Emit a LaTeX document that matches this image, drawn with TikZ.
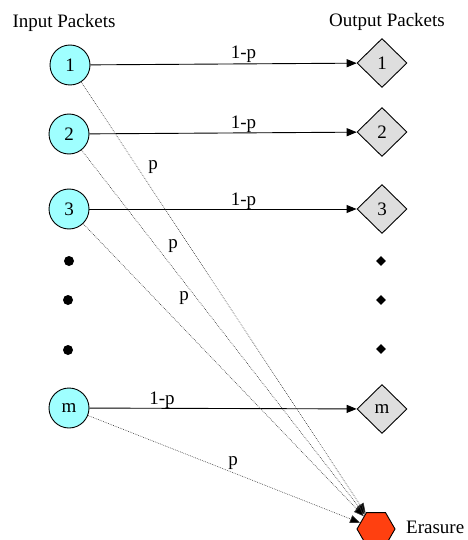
\documentclass[tikz,border=0pt]{standalone}
\usepackage{fontspec}
\setmainfont{Liberation Serif}
\usetikzlibrary{shapes.geometric,arrows.meta}

\definecolor{inputfill}{HTML}{9FFFFF}
\definecolor{outputfill}{HTML}{DEDEDE}
\definecolor{erasefill}{HTML}{FF4010}

\tikzset{
  lbl/.style={font=\fontsize{19}{22}\selectfont, inner sep=0pt, anchor=base},
  inpkt/.style={circle, draw, line width=0.9pt, fill=inputfill, minimum size=40pt,
    inner sep=0pt, font=\fontsize{19}{22}\selectfont},
  outpkt/.style={diamond, draw, line width=0.9pt, fill=outputfill, minimum width=50pt,
    minimum height=49pt, inner sep=0pt, font=\fontsize{19}{22}\selectfont},
  erasebox/.style={regular polygon, regular polygon sides=6, draw, line width=0.9pt,
    fill=erasefill, minimum size=38pt, inner sep=0pt},
  bigdot/.style={circle, fill=black, minimum size=10pt, inner sep=0pt},
  smalldiam/.style={diamond, fill=black, minimum width=10pt, minimum height=10pt, inner sep=0pt},
  pass/.style={line width=0.9pt, -{Triangle[length=10pt,width=8pt]}},
  lost/.style={line width=0.6pt, black!80, dash pattern=on 0.7pt off 1.1pt,
    -{Triangle[length=10pt,width=8pt,fill=black]}},
}

\begin{document}
\begin{tikzpicture}[x=1pt, y=-1pt]
\useasboundingbox (0,0) rectangle (467,540);

% column headings
\node[lbl] (hin)  at (64,28)  {Input Packets};
\node[lbl] (hout) at (387,27) {Output Packets};

% input packets
\node[inpkt] (i1) at (70,65)  {1};
\node[inpkt] (i2) at (69,134) {2};
\node[inpkt] (i3) at (69,209) {3};
\node[inpkt] (im) at (69,408) {m};

% output packets
\node[outpkt] (o1) at (382,63)  {1};
\node[outpkt] (o2) at (382,132) {2};
\node[outpkt] (o3) at (382,209) {3};
\node[outpkt] (om) at (382,409) {m};

% ellipsis marks
\node[bigdot] (d1) at (69,261) {};
\node[bigdot] (d2) at (68,300) {};
\node[bigdot] (d3) at (68,350) {};
\node[smalldiam] (s1) at (381,261) {};
\node[smalldiam] (s2) at (381,300) {};
\node[smalldiam] (s3) at (381,349) {};

% erasure sink
\node[erasebox] (er) at (376,529) {};
\node[lbl, anchor=base west] (ertxt) at (406,533) {Erasure};

% successful deliveries
\draw[pass] (i1) -- (o1);
\draw[pass] (i2) -- (o2);
\draw[pass] (i3) -- (o3);
\draw[pass] (im) -- (om);

% erasures
\draw[lost] (i1) -- (er);
\draw[lost] (i2) -- (er);
\draw[lost] (i3) -- (er);
\draw[lost] (im) -- (er);

% probabilities
\node[lbl] (q1) at (243.5,59) {1-p};
\node[lbl] (q2) at (243.5,129) {1-p};
\node[lbl] (q3) at (243.5,205) {1-p};
\node[lbl] (qm) at (162,404) {1-p};
\node[lbl] (p1) at (153,169) {p};
\node[lbl] (p2) at (173,248) {p};
\node[lbl] (p3) at (184,300) {p};
\node[lbl] (pm) at (233,465) {p};
\end{tikzpicture}
\end{document}
